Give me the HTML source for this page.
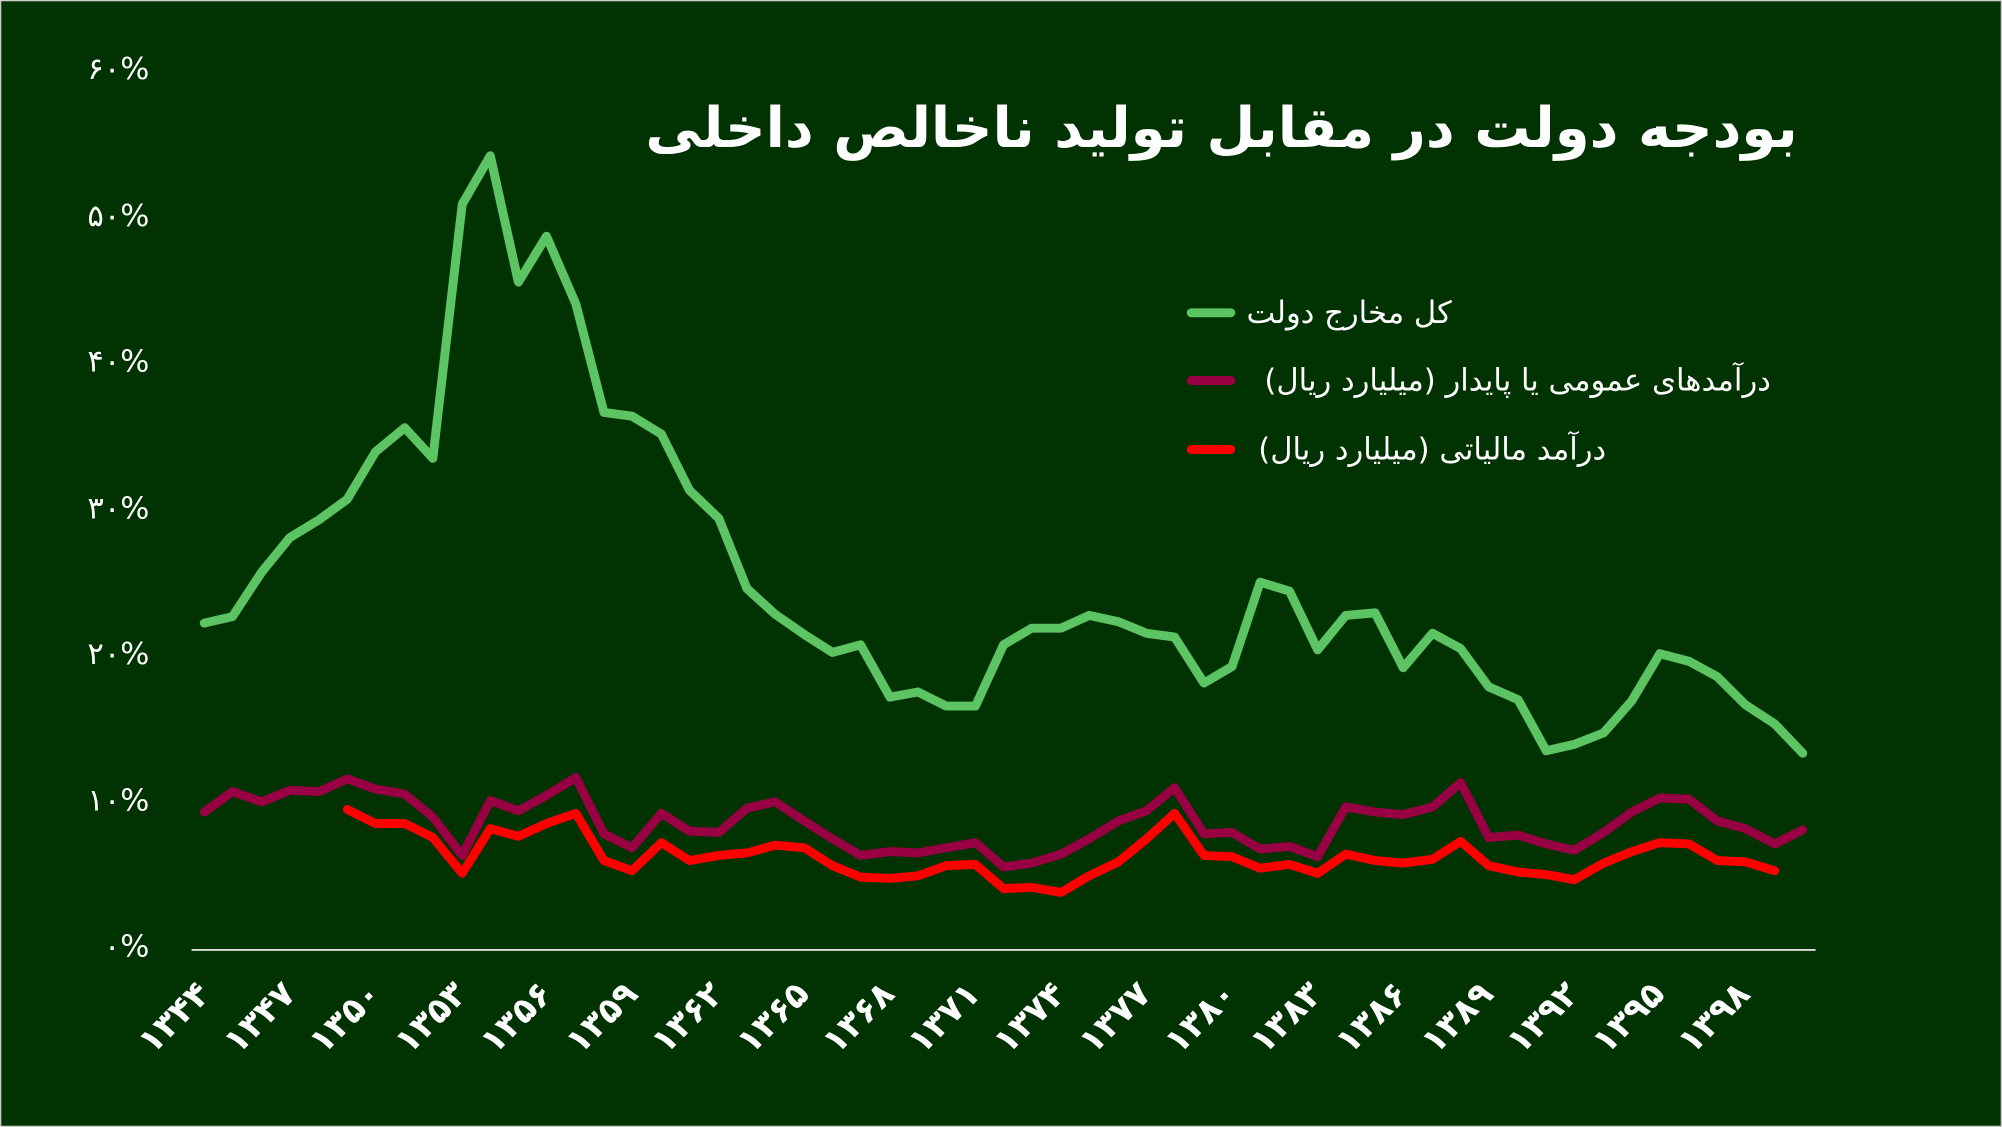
<!DOCTYPE html>
<html><head><meta charset="utf-8"><style>
html,body{margin:0;padding:0;background:#003300;}
svg{display:block}
text{font-family:"DejaVu Sans","Liberation Sans",sans-serif;fill:#fff}
</style></head><body>
<svg width="2002" height="1127" viewBox="0 0 1568 882.7" xmlns="http://www.w3.org/2000/svg">
<rect x="0.5" y="0.5" width="1567" height="881.7" fill="#013201" stroke="#cfcfcf" stroke-width="1"/>
<text x="1408" y="115" direction="rtl" text-anchor="start" font-size="44" font-weight="bold">بودجه دولت در مقابل تولید ناخالص داخلی</text>
<g font-size="24" text-anchor="end">
<text x="117" y="62">۶۰%</text>
<text x="117" y="177">۵۰%</text>
<text x="117" y="291">۴۰%</text>
<text x="117" y="406">۳۰%</text>
<text x="117" y="520">۲۰%</text>
<text x="117" y="635">۱۰%</text>
<text x="117" y="749">۰%</text>
</g>
<line x1="150" y1="744" x2="1422" y2="744" stroke="#dddddd" stroke-width="1.5"/>
<g font-size="27" font-weight="bold" text-anchor="end">
<text transform="translate(166,780) rotate(-45)">۱۳۴۴</text>
<text transform="translate(233,780) rotate(-45)">۱۳۴۷</text>
<text transform="translate(300,780) rotate(-45)">۱۳۵۰</text>
<text transform="translate(367,780) rotate(-45)">۱۳۵۳</text>
<text transform="translate(434,780) rotate(-45)">۱۳۵۶</text>
<text transform="translate(501,780) rotate(-45)">۱۳۵۹</text>
<text transform="translate(568,780) rotate(-45)">۱۳۶۲</text>
<text transform="translate(635,780) rotate(-45)">۱۳۶۵</text>
<text transform="translate(702,780) rotate(-45)">۱۳۶۸</text>
<text transform="translate(769,780) rotate(-45)">۱۳۷۱</text>
<text transform="translate(836,780) rotate(-45)">۱۳۷۴</text>
<text transform="translate(903,780) rotate(-45)">۱۳۷۷</text>
<text transform="translate(970,780) rotate(-45)">۱۳۸۰</text>
<text transform="translate(1037,780) rotate(-45)">۱۳۸۳</text>
<text transform="translate(1104,780) rotate(-45)">۱۳۸۶</text>
<text transform="translate(1171,780) rotate(-45)">۱۳۸۹</text>
<text transform="translate(1238,780) rotate(-45)">۱۳۹۲</text>
<text transform="translate(1305,780) rotate(-45)">۱۳۹۵</text>
<text transform="translate(1372,780) rotate(-45)">۱۳۹۸</text>
</g>
<g fill="none" stroke-width="7" stroke-linejoin="round" stroke-linecap="round">
<polyline stroke="#5cc463" points="160,488 182,483 205,448 227,421 250,407 272,391 294,354 317,335 339,359 362,160 384,122 406,221 428,185 451,238 473,323 495,326 518,340 540,384 563,406 585,461 607,481 630,497 652,511 674,505 697,546 719,542 741,553 764,553 786,505 808,492 831,492 853,482 876,487 898,496 920,499 943,535 965,522 987,456 1010,463 1032,509 1054,482 1077,480 1099,523 1122,496 1144,508 1166,538 1189,548 1211,588 1233,583 1256,574 1278,549 1300,512 1323,518 1345,530 1367,552 1390,567 1412,590"/>
<polyline stroke="#990044" points="160,636 182,620 205,628 227,619 250,620 272,610 294,618 317,622 339,640 362,670 384,627 406,635 428,623 451,609 473,653 495,664 518,637 540,651 563,652 585,633 607,628 630,643 652,657 674,670 697,667 719,668 741,664 764,660 786,679 808,676 831,669 853,657 876,643 898,635 920,617 943,653 965,652 987,665 1010,663 1032,671 1054,632 1077,636 1099,638 1122,632 1144,613 1166,656 1189,654 1211,661 1233,666 1256,652 1278,636 1300,625 1323,626 1345,643 1367,649 1390,661 1412,650"/>
<polyline stroke="#ff0000" points="272,634 294,645 317,645 339,656 362,684 384,649 406,655 428,645 451,637 473,674 495,682 518,660 540,674 563,670 585,668 607,662 630,664 652,678 674,687 697,688 719,686 741,678 764,677 786,696 808,695 831,699 853,686 876,675 898,657 920,637 943,670 965,671 987,680 1010,677 1032,684 1054,669 1077,674 1099,676 1122,673 1144,659 1166,678 1189,683 1211,685 1233,689 1256,676 1278,667 1300,660 1323,661 1345,674 1367,675 1390,682"/>
<line x1="933" y1="245" x2="964" y2="245" stroke="#5cc463"/>
<line x1="933" y1="298" x2="964" y2="298" stroke="#990044"/>
<line x1="933" y1="352" x2="964" y2="352" stroke="#ff0000"/>
</g>
<g font-size="24">
<text x="1137" y="253" direction="rtl" text-anchor="start">کل مخارج دولت</text>
<text x="1387" y="306" direction="rtl" text-anchor="start">درآمدهای عمومی یا پایدار (میلیارد ریال)</text>
<text x="1258" y="360" direction="rtl" text-anchor="start">درآمد مالیاتی (میلیارد ریال)</text>
</g>
</svg>
</body></html>
